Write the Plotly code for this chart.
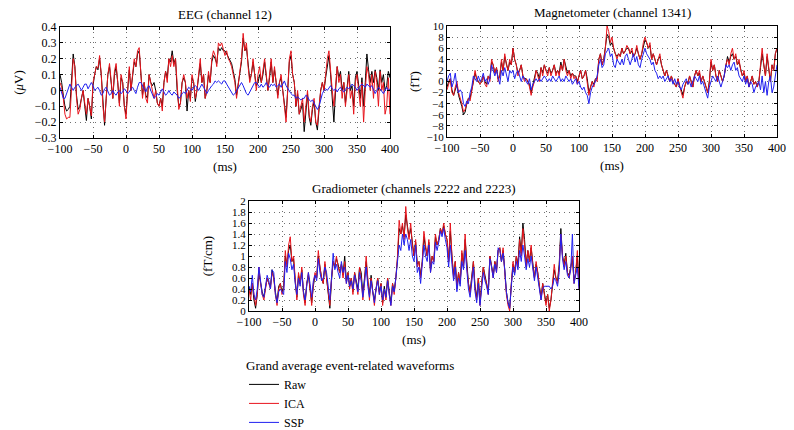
import numpy as np
import plotly.graph_objects as go

# ---------------- data (time in ms, step 2.5 ms from -100 to 400) ----------------
eeg_raw = [
    0.1, 0.05, -0.03, -0.1, -0.13, -0.12, -0.1, 0.05, 0.23, 0.15,
    -0.03, -0.12, -0.1, -0.05, 0.0, -0.1, -0.19, -0.05, -0.1, -0.18,
    0.03, 0.1, 0.15, 0.13, 0.2, 0.1, -0.1, -0.22, -0.05, 0.1,
    0.15, 0.05, -0.05, 0.1, 0.15, 0.05, -0.08, 0.08, 0.05, -0.1,
    -0.15, 0.0, 0.13, 0.0, 0.1, 0.18, 0.15, 0.23, 0.25, 0.1,
    -0.03, 0.05, -0.03, -0.05, 0.1, 0.05, 0.03, 0.05, 0.0, -0.08,
    -0.1, -0.05, -0.1, 0.05, 0.12, 0.08, 0.2, 0.18, 0.25, 0.17,
    0.2, 0.0, -0.1, -0.08, 0.05, 0.08, 0.05, -0.13, 0.0, -0.05,
    0.08, 0.05, -0.07, 0.0, 0.1, 0.17, 0.05, 0.1, -0.05, 0.0,
    0.1, 0.05, 0.18, 0.22, 0.2, 0.17, 0.27, 0.25, 0.27, 0.25,
    0.25, 0.23, 0.22, 0.2, 0.17, 0.12, 0.07, -0.03, 0.05, 0.1,
    0.18, 0.33, 0.25, 0.27, 0.15, 0.07, 0.1, 0.18, 0.1, 0.03,
    0.05, 0.1, 0.05, 0.1, 0.18, 0.1, 0.0, 0.08, 0.18, 0.05,
    0.13, 0.05, -0.03, 0.05, 0.08, 0.0, -0.08, -0.17, 0.0, 0.18,
    0.22, 0.1, 0.05, -0.1, -0.02, -0.15, -0.12, -0.08, -0.26, -0.12,
    -0.02, -0.17, -0.22, -0.12, -0.07, -0.2, -0.25, -0.12, 0.0, 0.05,
    0.0, 0.08, 0.17, 0.22, 0.1, -0.05, -0.2, 0.0, 0.15, 0.08,
    0.12, 0.0, 0.05, -0.08, 0.03, 0.12, 0.0, 0.03, -0.1, 0.08,
    0.12, 0.03, -0.05, 0.08, -0.1, 0.05, 0.23, 0.13, 0.05, 0.12,
    0.05, 0.13, 0.08, 0.0, 0.13, 0.05, 0.1, 0.0, 0.03, 0.12,
    0.08,
]
eeg_ica = [
    0.05, 0.02, -0.05, -0.15, -0.18, -0.17, -0.17, 0.0, 0.2, 0.15,
    -0.05, -0.15, -0.12, -0.05, 0.0, -0.08, -0.15, -0.05, -0.1, -0.16,
    0.05, 0.1, 0.15, 0.14, 0.22, 0.1, -0.1, -0.2, -0.05, 0.1,
    0.17, 0.05, -0.05, 0.12, 0.17, 0.05, -0.1, 0.1, 0.05, -0.1,
    -0.18, 0.0, 0.15, 0.0, 0.1, 0.2, 0.15, 0.25, 0.27, 0.1,
    -0.05, 0.05, -0.05, -0.08, 0.1, 0.05, 0.0, -0.05, 0.0, -0.08,
    -0.1, -0.05, -0.13, 0.05, 0.12, 0.05, 0.2, 0.15, 0.22, 0.15,
    0.2, 0.0, -0.12, -0.08, 0.05, 0.1, 0.05, -0.05, 0.0, -0.07,
    0.1, 0.05, -0.05, 0.0, 0.1, 0.2, 0.05, 0.1, -0.05, 0.0,
    0.12, 0.05, 0.2, 0.25, 0.22, 0.15, 0.3, 0.28, 0.3, 0.25,
    0.22, 0.25, 0.2, 0.18, 0.15, 0.1, 0.05, -0.05, 0.05, 0.12,
    0.2, 0.36, 0.25, 0.3, 0.15, 0.05, 0.1, 0.2, 0.1, 0.0,
    0.1, 0.15, 0.05, 0.12, 0.2, 0.1, 0.0, 0.1, 0.2, 0.05,
    0.15, 0.05, -0.05, 0.05, 0.1, 0.0, -0.1, -0.2, 0.0, 0.2,
    0.25, 0.1, 0.05, -0.1, 0.0, -0.15, -0.1, -0.05, -0.2, -0.1,
    0.0, -0.15, -0.2, -0.1, -0.05, -0.2, -0.22, -0.1, 0.0, 0.05,
    0.0, 0.1, 0.2, 0.25, 0.1, 0.0, -0.1, 0.05, 0.15, 0.05,
    0.1, -0.05, 0.05, -0.1, 0.0, 0.1, -0.05, 0.0, -0.15, 0.05,
    0.1, 0.0, -0.1, 0.05, -0.2, 0.0, 0.15, 0.1, 0.0, 0.1,
    -0.05, 0.12, 0.05, -0.1, 0.12, 0.0, 0.05, -0.15, -0.1, 0.08,
    -0.15,
]
eeg_ssp = [
    0.02, -0.02, -0.05, -0.05, -0.02, 0.02, 0.04, 0.02, 0.0, 0.02,
    0.03, 0.04, 0.02, 0.0, 0.02, 0.04, 0.04, 0.01, 0.03, 0.05,
    0.03, 0.0, 0.01, 0.02, 0.0, -0.03, -0.02, 0.01, 0.02, 0.0,
    -0.03, -0.02, 0.0, -0.02, -0.03, -0.01, 0.0, -0.02, -0.01, 0.01,
    0.0, -0.02, -0.01, 0.01, 0.02, 0.0, -0.02, 0.02, 0.05, 0.05,
    0.03, 0.0, -0.01, 0.02, 0.03, 0.0, -0.03, -0.05, -0.04, -0.02,
    -0.03, -0.01, 0.01, -0.01, -0.03, -0.02, 0.0, -0.02, -0.03, -0.01,
    -0.02, -0.03, -0.05, -0.04, -0.02, -0.01, -0.02, 0.0, 0.02, 0.01,
    0.0, 0.02, 0.03, 0.02, 0.0, 0.02, 0.04, 0.02, 0.0, -0.02,
    0.0, 0.02, 0.03, 0.04, 0.06, 0.05, 0.06, 0.05, 0.04, 0.06,
    0.06, 0.04, 0.02, 0.0, -0.02, -0.03, -0.02, 0.0, 0.02, 0.04,
    0.05, 0.03, 0.0, -0.02, -0.03, -0.01, 0.01, 0.03, 0.05, 0.05,
    0.03, 0.02, 0.04, 0.02, 0.03, 0.05, 0.03, 0.02, 0.04, 0.03,
    0.04, 0.02, 0.03, 0.04, 0.02, 0.04, 0.06, 0.03, 0.01, -0.01,
    -0.02, -0.03, -0.03, -0.05, -0.04, -0.05, -0.06, -0.05, -0.05, -0.03,
    -0.04, -0.06, -0.07, -0.06, -0.08, -0.1, -0.12, -0.1, -0.06, -0.02,
    0.0, 0.01, 0.0, 0.02, 0.03, 0.01, 0.0, 0.01, -0.01, 0.01,
    0.02, 0.0, -0.01, 0.01, 0.02, 0.01, 0.03, 0.04, 0.03, 0.02,
    0.0, 0.02, 0.03, 0.04, 0.03, 0.02, 0.04, 0.03, 0.02, 0.03,
    0.0, -0.02, 0.0, 0.02, 0.01, -0.01, -0.02, 0.0, 0.02, 0.0,
    0.01,
]

mag_raw = [
    -1, 0, 0.5, -1.5, -2.5, -1.5, -0.5, -2.5, -3.5, -4.5,
    -6, -5.5, -4, -3, -3, -1.5, 0, 1.5, 0.5, 0,
    -0.5, 0, 1, 0, -0.5, 1, 0.5, 3.5, 3, 1.5,
    2.5, 0.5, 1, 3.5, 2, 4.5, 3, 2, 3.5, 3,
    6, 4, 3, 1.5, 2, 3, 1, 0.5, 0.5, 0,
    -0.5, -2, -0.5, 0.5, 2, 1.5, 0.5, 2.5, 1.5, 3,
    2, 1.5, 2.5, 1.5, 2, 3, 1.5, 2, 1.5, 3.5,
    2, 4, 2.5, 1.5, 2, 1, 1.5, 1, 1, 0,
    1, 2, 0.5, 1, 2, 0.5, -2, -1, 0, -0.5,
    0.5, 0.5, 4, 5, 3, 4, 6, 8.5, 8, 6.5,
    7, 6, 5, 4.5, 5, 4.5, 6, 5, 5.5, 6,
    6, 5, 5.5, 4.5, 5, 6, 5, 4, 5, 6.5,
    7.5, 7, 6, 6.5, 4, 5, 4, 3, 4, 4.5,
    3, 2, 1, 2, 1, 0, 1, 0, -0.5, -1,
    0.5, -1, -1.5, -2.5, -1, 0, -0.5, 1, 0, -1,
    1, 2, 1, 1.5, 0, 1, 0, -1, -2, 0,
    3.5, 2, 3, 1, 0, 2, 1, 0, 1, 3,
    4.5, 3.5, 4.5, 5, 4, 4.5, 3, 3.5, 2, 1,
    1.5, 0, 1, -1, 0, 1, -0.5, 0, -1, 0,
    2.5, 5, 3, 1, 4.5, 2, 0, 3, 2, 5,
    6,
]
mag_ica = [
    -1.5, -0.5, 0.5, -2, -2.5, -1, 0, -2, -3, -4,
    -5.5, -5, -4, -3, -3.5, -2, 0, 2, 0.5, 0,
    -0.5, 0, 1, -0.5, -1, 1, 0, 4, 3, 1.5,
    2.5, 0, 1, 4, 2, 5, 3, 2, 4, 3,
    6, 4, 3, 1, 2, 3, 1, 0, 0.5, 0,
    -1, -2.5, -1, 0, 2, 1, 0, 2.5, 1, 3,
    2, 1, 2.5, 1, 2, 3, 1, 2, 1, 3,
    2, 4, 2, 1, 2, 0.5, 1.5, 0.5, 1, -0.5,
    1, 2, 0.5, 1, 2, 0, -2.5, -1, 0, -1,
    0.5, 0, 4, 5, 3, 4, 6, 10, 9, 7,
    8, 6, 5, 4, 5, 4.5, 6, 5, 5.5, 6.5,
    6, 5, 6, 4.5, 5, 6.5, 5, 4, 5, 7,
    8, 7, 6, 7, 4, 5, 4, 3, 4, 5,
    3, 2, 1, 2, 1, 0, 1, 0, -0.5, -1,
    0.5, -1, -2, -3, -1, 0, -0.5, 1, 0, -1,
    1, 2, 1, 2, 0, 1, 0, -1, -2, 0,
    4, 2, 3, 1, 0, 2, 1, 0, 1, 3,
    4, 3, 5, 6, 4, 5, 3, 4, 2, 1,
    2, 0, 1, -1, 0, 1, -0.5, 0, -1, 0,
    3, 6, 3, 1, 5, 2, 0, 3, 2, 5,
    6,
]
mag_ssp = [
    0, 1, 1.5, -1, 0, 1.5, -1, -2, -1.5, -2,
    -4, -4.5, -3.5, -4, -2, -1, 1, 0.5, 0, 1,
    0, 0.5, 1.5, 0, 0.5, -0.5, 0.5, 3, 2, 1,
    2, 0.5, -0.5, 2, 1, 2.5, 1, 0, 2, 1.5,
    2, 0.5, 1.5, 2, 1, 0, 1, 0.5, 0, -0.5,
    0.5, -1.5, -0.5, 0, 0.5, 0, 0.5, 0, 0.5, 1,
    0.5, 0, 0.5, 0, 1, 0.5, 0, 0.5, 1, 0,
    0.5, 0, 1, 0.5, 0, 0.5, -0.5, 0, 0.5, -0.5,
    0, -1, -1.5, -1, -2, -2.5, -4, -2, -1, -0.5,
    0, 1, 3, 4, 2.5, 3, 5, 5.5, 6, 4.5,
    5, 3, 2.5, 4, 3.5, 3, 4, 3, 4.5, 5,
    4, 3, 4, 5, 3.5, 4.5, 3, 2.5, 4, 5,
    6, 5, 4.5, 4, 3, 3.5, 2, 1.5, 0.5, 1,
    0.5, 1, 0, 0.5, 1, 0, 0.5, -0.5, 0.5, -0.5,
    0, -1, -1.5, -0.5, 0, 0.5, -0.5, 0, -1, 0,
    1, 0.5, 0, 1, -0.5, 0, -1, -2, -3, -1,
    0, 1, 0.5, 0, 1, 0, -1, 0, 1, 3,
    2.5, 3, 2, 3, 3.5, 2, 2.5, 1, 0.5, 0,
    1, -0.5, 0.5, -1, 0, -0.5, -2, -1, -0.5, 0,
    -1.5, 1, -2, 0, -2.5, 0, 1, -2, -1, 1,
    3,
]

grad_raw = [
    0.45, 0.3, 0.5, 0.2, 0.05, 0.3, 0.7, 0.5, 0.35, 0.25,
    0.45, 0.6, 0.5, 0.45, 0.75, 0.6, 0.35, 0.15, 0.45, 0.5,
    0.35, 0.45, 1.0, 0.85, 1.1, 1.2, 0.9, 0.95, 0.55, 0.25,
    0.65, 0.5, 0.75, 0.35, 0.15, 0.5, 0.65, 0.4, 0.15, 0.45,
    0.65, 0.6, 1.0, 0.8, 0.6, 0.5, 0.85, 0.6, 0.35, 0.05,
    0.55, 0.9, 0.8, 0.95, 0.85, 0.7, 0.85, 0.65, 1.0, 0.55,
    0.7, 0.45, 0.6, 0.35, 0.7, 0.55, 0.4, 0.8, 0.7, 0.3,
    0.55, 0.9, 0.55, 0.3, 0.65, 0.35, 0.2, 0.45, 0.6, 0.35,
    0.5, 0.15, 0.45, 0.25, 0.6, 0.35, 0.15, 0.5, 0.35, 0.6,
    0.95, 1.5, 1.4, 1.55, 1.35, 1.75, 1.5, 1.35, 1.5, 1.25,
    1.0, 1.25, 0.85, 0.9, 0.65, 0.9, 1.35, 1.15, 1.0, 1.25,
    0.75, 1.0, 0.9, 1.35, 1.2, 1.3, 1.5, 1.4, 1.55, 1.4,
    1.3, 0.9, 1.45, 1.0, 0.65, 0.9, 0.45, 0.7, 0.5, 1.05,
    0.85, 1.3, 0.85, 0.5, 0.35, 0.6, 0.9, 0.45, 0.25, 0.6,
    0.15, 0.5, 0.8, 0.65, 0.5, 0.35, 1.0, 0.85, 0.65, 0.9,
    0.75, 1.1, 1.15, 0.9, 1.1, 0.75, 0.35, 0.15, 0.05, 0.5,
    0.85, 0.7, 1.0, 0.85, 1.35, 1.05, 1.6, 1.3, 0.85, 1.1,
    0.9, 1.15, 0.85, 0.6, 0.85, 0.7, 0.45, 0.25, 0.5, 0.3,
    0.15, 0.3, 0.05, 0.2, 0.5, 0.75, 0.6, 0.55, 0.85, 1.5,
    1.0, 0.85, 1.05, 0.7, 0.65, 0.8, 0.95, 0.55, 0.7, 1.0,
    0.45,
]
grad_ica = [
    0.4, 0.2, 0.5, 0.3, 0.1, 0.3, 0.8, 0.5, 0.3, 0.2,
    0.4, 0.6, 0.5, 0.4, 0.7, 0.6, 0.3, 0.1, 0.4, 0.5,
    0.3, 0.4, 1.1, 0.8, 1.2, 1.35, 0.9, 1.0, 0.6, 0.2,
    0.7, 0.5, 0.8, 0.3, 0.1, 0.5, 0.7, 0.4, 0.1, 0.5,
    0.7, 0.6, 1.1, 0.8, 0.6, 0.5, 0.9, 0.6, 0.3, 0.1,
    0.6, 0.9, 0.8, 1.0, 0.8, 0.7, 0.85, 0.6, 0.9, 0.5,
    0.7, 0.4, 0.6, 0.3, 0.7, 0.5, 0.3, 0.8, 0.6, 0.2,
    0.5, 1.0, 0.5, 0.2, 0.6, 0.3, 0.1, 0.4, 0.6, 0.3,
    0.5, 0.1, 0.4, 0.2, 0.6, 0.3, 0.1, 0.5, 0.3, 0.6,
    1.0, 1.65, 1.4, 1.6, 1.3, 1.9, 1.5, 1.3, 1.6, 1.2,
    1.0, 1.3, 0.8, 0.9, 0.6, 0.9, 1.45, 1.2, 1.0, 1.3,
    0.7, 1.0, 0.9, 1.4, 1.2, 1.3, 1.5, 1.4, 1.6, 1.4,
    1.3, 0.9, 1.6, 1.0, 0.6, 0.9, 0.4, 0.7, 0.5, 1.1,
    0.8, 1.4, 0.8, 0.5, 0.3, 0.6, 0.9, 0.4, 0.2, 0.6,
    0.1, 0.5, 0.8, 0.6, 0.5, 0.3, 1.0, 0.8, 0.6, 0.9,
    0.7, 1.1, 1.15, 0.9, 1.15, 0.7, 0.3, 0.1, 0.0, 0.5,
    0.9, 0.7, 1.0, 0.8, 1.3, 1.0, 1.5, 1.2, 0.8, 1.1,
    0.9, 1.2, 0.8, 0.6, 0.9, 0.7, 0.4, 0.2, 0.5, 0.3,
    0.1, 0.3, 0.0, 0.2, 0.5, 0.85, 0.6, 0.5, 0.8, 1.4,
    1.0, 0.8, 1.0, 0.7, 0.6, 0.8, 1.0, 0.5, 0.7, 1.1,
    0.4,
]
grad_ssp = [
    0.45, 0.35, 0.65, 0.3, 0.2, 0.4, 0.8, 0.55, 0.3, 0.25,
    0.5, 0.65, 0.55, 0.4, 0.75, 0.7, 0.3, 0.15, 0.35, 0.4,
    0.35, 0.3, 0.9, 0.7, 1.05, 0.95, 0.75, 0.85, 0.5, 0.3,
    0.6, 0.45, 0.7, 0.35, 0.2, 0.45, 0.7, 0.5, 0.25, 0.55,
    0.65, 0.55, 0.95, 0.7, 0.55, 0.6, 0.8, 0.7, 0.4, 0.2,
    0.6, 1.05, 0.75, 0.85, 0.7, 0.6, 0.9, 0.7, 0.8, 0.5,
    0.65, 0.45, 0.55, 0.4, 0.65, 0.5, 0.35, 0.7, 0.55, 0.25,
    0.5, 0.8, 0.45, 0.25, 0.55, 0.35, 0.15, 0.4, 0.55, 0.3,
    0.45, 0.2, 0.4, 0.25, 0.55, 0.3, 0.1, 0.45, 0.35, 0.6,
    0.9, 1.2, 1.1, 1.4, 1.2, 1.4, 1.3, 1.1, 1.3, 1.0,
    0.9, 1.2, 0.7, 0.8, 0.5, 0.8, 1.2, 1.0, 0.9, 1.2,
    0.7, 0.9, 0.85, 1.25, 1.1, 1.25, 1.45, 1.35, 1.5, 1.3,
    1.15, 0.8, 1.2, 0.85, 0.55, 0.8, 0.35, 0.6, 0.45, 0.9,
    0.75, 1.1, 0.7, 0.4, 0.25, 0.5, 0.8, 0.35, 0.15, 0.5,
    0.1, 0.4, 0.7, 0.55, 0.45, 0.3, 0.95, 0.8, 0.6, 0.85,
    0.7, 1.15, 1.1, 0.9, 1.05, 0.75, 0.35, 0.15, 0.05, 0.45,
    0.8, 0.65, 0.9, 0.75, 1.1, 0.9, 1.2, 1.0, 0.75, 0.95,
    0.8, 1.0, 0.75, 0.55, 0.8, 0.6, 0.35, 0.2, 0.4, 0.45,
    0.45, 0.45, 0.45, 0.4, 0.45, 0.6, 0.55, 0.45, 0.7, 1.4,
    0.95, 0.75, 0.9, 0.65, 0.6, 0.75, 1.4, 0.5, 0.65, 0.8,
    0.4,
]

series_names = ["Raw", "ICA", "SSP"]
series_colors = ["#000000", "#e8141c", "#2020f0"]
panel_titles = ["EEG (channel 12)", "Magnetometer (channel 1341)",
                "Gradiometer (channels 2222 and 2223)"]
panel_units = ["(<i>μ</i>V)", "(fT)", "(fT/cm)"]
x_ticks = [-100, -50, 0, 50, 100, 150, 200, 250, 300, 350, 400]

panels = [
    [eeg_raw, eeg_ica, eeg_ssp],
    [mag_raw, mag_ica, mag_ssp],
    [grad_raw, grad_ica, grad_ssp],
]
y_ranges = [[-0.3, 0.4], [-10, 10], [0, 2]]
y_dticks = [0.1, 2, 0.2]
y_standoffs = [8, 4, 16]
y_tick_sizes = [12, 11, 11]

W, H = 794, 430
# pixel boxes (left, right, top, bottom)
boxes = [(60, 390, 27, 138), (447, 777, 26, 137), (249, 579, 201, 311)]

FONT = "Liberation Serif"

fig = go.Figure()
for p, data in enumerate(panels):
    sfx = "" if p == 0 else str(p + 1)
    for s, vals in enumerate(data):
        t = np.linspace(-100, 400, len(vals))
        fig.add_trace(go.Scatter(
            x=t, y=vals, mode="lines", name=series_names[s],
            line=dict(color=series_colors[s], width=1),
            xaxis="x" + sfx, yaxis="y" + sfx,
            showlegend=(p == 0), hoverinfo="skip",
        ))

axis_common = dict(
    showline=True, linecolor="black", linewidth=1, mirror="ticks",
    ticks="inside", ticklen=3, tickcolor="black", tickwidth=1,
    showgrid=True, gridcolor="#6f6f6f", griddash="1px,4px", gridwidth=1,
    zeroline=False, automargin=False,
)

layout = dict(
    width=W, height=H, margin=dict(l=0, r=0, t=0, b=0, autoexpand=False),
    paper_bgcolor="white", plot_bgcolor="white",
    font=dict(family=FONT, size=13, color="black"),
    showlegend=True,
    legend=dict(
        x=244 / W, y=1 - 353 / H, xanchor="left", yanchor="top",
        title=dict(text="Grand average event-related waveforms",
                   font=dict(family=FONT, size=13)),
        font=dict(family=FONT, size=12), bgcolor="rgba(0,0,0,0)",
        tracegroupgap=0, itemwidth=30,
    ),
)
annotations = []
for p in range(3):
    sfx = "" if p == 0 else str(p + 1)
    l, r, t, b = boxes[p]
    layout["xaxis" + sfx] = dict(
        axis_common, domain=[l / W, r / W], anchor="y" + sfx,
        range=[-100, 400], tickvals=x_ticks,
        tickfont=dict(family=FONT, size=12, color="black"),
        title=dict(text="(ms)", font=dict(family=FONT, size=13), standoff=6),
    )
    layout["yaxis" + sfx] = dict(
        axis_common, domain=[1 - b / H, 1 - t / H], anchor="x" + sfx,
        range=y_ranges[p], dtick=y_dticks[p], tick0=0,
        tickfont=dict(family=FONT, size=y_tick_sizes[p], color="black"),
        title=dict(text=panel_units[p], font=dict(family=FONT, size=13),
                   standoff=y_standoffs[p]),
    )
    annotations.append(dict(
        text=panel_titles[p], x=(l + r) / 2 / W, y=1 - (t - 13) / H,
        xref="paper", yref="paper", showarrow=False,
        font=dict(family=FONT, size=13), xanchor="center", yanchor="middle",
    ))
layout["annotations"] = annotations
fig.update_layout(**layout)
fig.write_html("out.html",
               config={"displayModeBar": False},
               post_script="document.body.style.margin='0';"
                           "document.body.style.padding='0';")
